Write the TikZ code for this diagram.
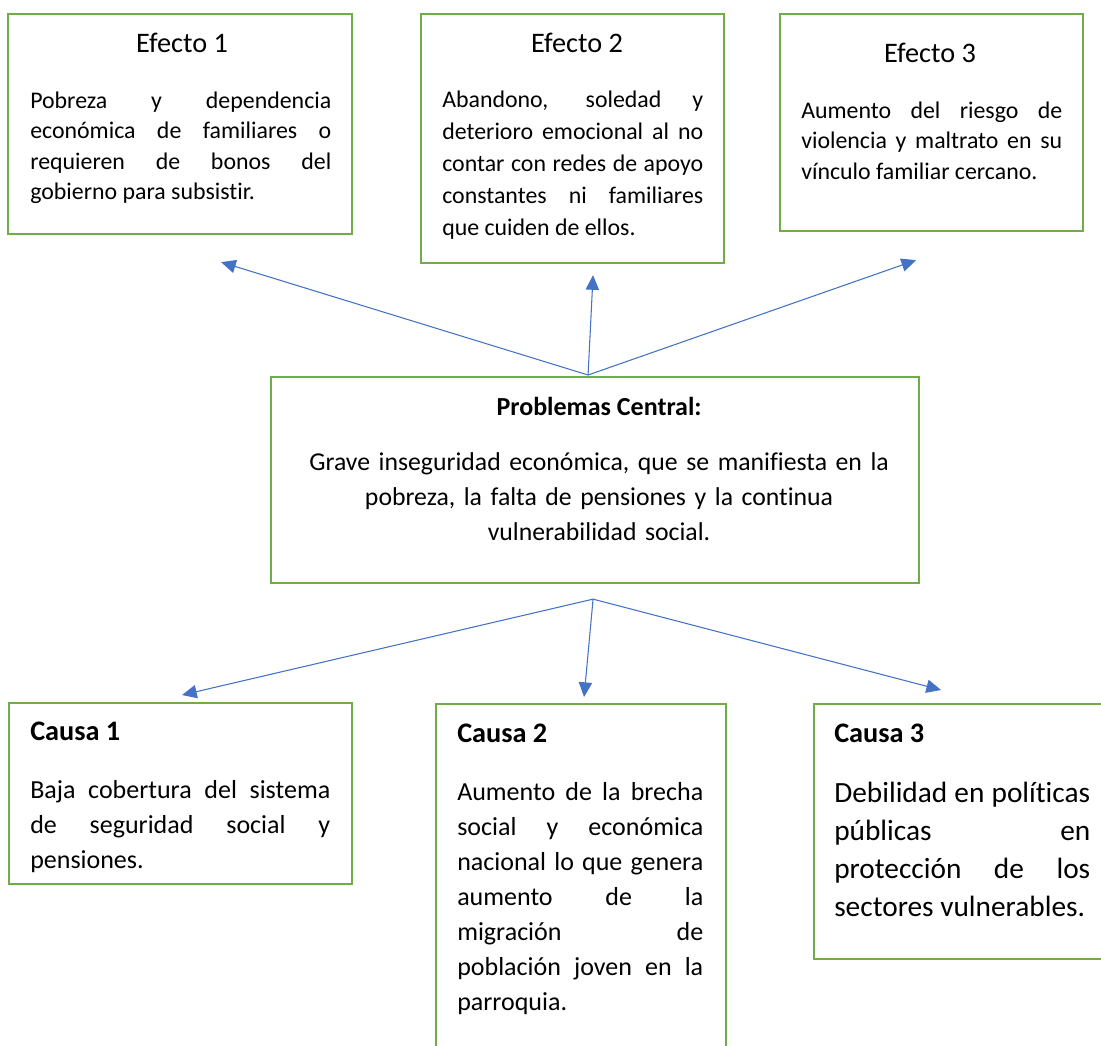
\documentclass[tikz,border=0pt]{standalone}
\usepackage{fontspec}
\setmainfont{Carlito}[Ligatures=NoCommon]
\usepackage{xcolor}
\usepackage{tikz}
\usetikzlibrary{arrows.meta, positioning}

\definecolor{verdecaja}{HTML}{70AD47}
\definecolor{azulflecha}{HTML}{4472C4}

\tikzset{
    caja/.style={draw=verdecaja, line width=1.6pt, anchor=north west, inner sep=0pt},
    titulo/.style={anchor=base, inner sep=0pt, font=\fontsize{21.2}{25}\selectfont},
    titcausa/.style={anchor=base west, inner sep=0pt, font=\bfseries\fontsize{21.2}{25}\selectfont},
    cuerpo/.style={anchor=base west, inner sep=0pt, align=justify, font=\fontsize{17.9}{22.9}\selectfont},
    cuerpocausa/.style={cuerpo, font=\fontsize{19.5}{26.25}\selectfont},
    flecha/.style={draw=azulflecha, line width=0.8pt, -{Triangle[length=11pt, width=10pt]}}
}

\begin{document}
\begin{tikzpicture}[x=0.75pt, y=-0.75pt]
        \useasboundingbox (0,0) rectangle (1101,1046);

        % efectos
        \node[caja, minimum width=258pt, minimum height=165pt]     (ef1) at (7,13) {};
        \node[caja, minimum width=227.25pt, minimum height=186.75pt] (ef2) at (420,13) {};
        \node[caja, minimum width=227.25pt, minimum height=162.75pt] (ef3) at (779,13) {};

        \node[titulo] (ef1t) at ([shift={(2,39)}]ef1.north) {Efecto 1};
        \node[titulo] (ef2t) at ([shift={(4.5,39)}]ef2.north) {Efecto 2};
        \node[titulo] (ef3t) at ([shift={(-1.5,49)}]ef3.north) {Efecto 3};

        \node[cuerpo, text width=225.75pt] (ef1c) at ([shift={(23,95)}]ef1.north west)
            {Pobreza y dependencia\linebreak económica de familiares o\linebreak requieren de bonos del\linebreak gobierno para subsistir.};
        \node[cuerpo, text width=195.75pt, font=\fontsize{17.9}{24}\selectfont] (ef2c) at ([shift={(22,94)}]ef2.north west)
            {Abandono, soledad y\linebreak deterioro emocional al no\linebreak contar con redes de apoyo\linebreak constantes ni familiares\linebreak que cuiden de ellos.};
        \node[cuerpo, text width=195.75pt] (ef3c) at ([shift={(22,105)}]ef3.north west)
            {Aumento del riesgo de\linebreak violencia y maltrato en su\linebreak vínculo familiar cercano.};

        % problema central
        \node[caja, minimum width=486pt, minimum height=154.5pt] (central) at (270,376) {};
        \node[titulo, font=\bfseries\fontsize{19.5}{24}\selectfont] (centralt) at ([shift={(4,39)}]central.north) {Problemas Central:};
        \node[anchor=base, inner sep=0pt, text width=450pt, align=center, font=\fontsize{19.3}{26.25}\selectfont] (centralc)
            at ([shift={(4,94)}]central.north)
            {Grave inseguridad económica, que se manifiesta en la\\ pobreza, la falta de pensiones y la continua\\ vulnerabilidad social.};

        % causas
        \node[caja, minimum width=257.25pt, minimum height=135.75pt] (ca1) at (8,702) {};
        \node[caja, minimum width=217.5pt, minimum height=267.75pt]  (ca2) at (435,703) {};
        \node[caja, minimum width=226.5pt, minimum height=191.25pt]  (ca3) at (813,703) {};

        \node[titcausa] (ca1t) at ([shift={(22,38)}]ca1.north west) {Causa 1};
        \node[titcausa] (ca2t) at ([shift={(22,39)}]ca2.north west) {Causa 2};
        \node[titcausa] (ca3t) at ([shift={(21,39)}]ca3.north west) {Causa 3};

        \node[cuerpocausa, text width=225pt] (ca1c) at ([shift={(22,96)}]ca1.north west)
            {Baja cobertura del sistema\linebreak de seguridad social y\linebreak pensiones.};
        \node[cuerpocausa, text width=184.5pt] (ca2c) at ([shift={(22,97)}]ca2.north west)
            {Aumento de la brecha\linebreak social y económica\linebreak nacional lo que genera\linebreak aumento de la\linebreak migración de\linebreak población joven en la\linebreak parroquia.};
        \node[cuerpocausa, text width=192pt, font=\fontsize{22}{28.7}\selectfont] (ca3c) at ([shift={(21,99)}]ca3.north west)
            {Debilidad en políticas\linebreak públicas en\linebreak protección de los\linebreak sectores vulnerables.};

        % flechas
        \draw[flecha] ([shift={(-7,-1)}]central.north) -- ([shift={(41,27)}]ef1.south);
        \draw[flecha] ([shift={(-7,-1)}]central.north) -- ([shift={(20.5,11)}]ef2.south);
        \draw[flecha] ([shift={(-7,-1)}]central.north) -- ([shift={(-15.5,28)}]ef3.south);
        \draw[flecha] ([shift={(-2,15)}]central.south) -- ([shift={(1.5,-7)}]ca1.north);
        \draw[flecha] ([shift={(-2,15)}]central.south) -- ([shift={(3,-6)}]ca2.north);
        \draw[flecha] ([shift={(-2,15)}]central.south) -- ([shift={(-24,-13)}]ca3.north);
\end{tikzpicture}
\end{document}
